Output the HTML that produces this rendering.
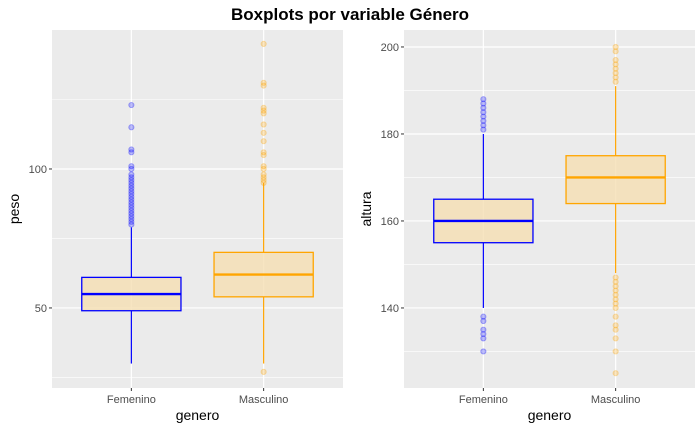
<!DOCTYPE html>
<html><head><meta charset="utf-8"><style>
body{margin:0;background:#fff;font-family:"Liberation Sans",sans-serif}
</style></head><body>
<svg id="c" width="700" height="432" xmlns="http://www.w3.org/2000/svg">
<text x="350" y="20" text-anchor="middle" font-size="17" font-weight="bold" fill="#000">Boxplots por variable Género</text>
</svg>
<script>
const categories = ["Femenino","Masculino"];
const pesoStats = [[30,49,55,61,79],[30,54,62,70,95]];
const pesoOutliers = [[123,115,107,106,101,100,98,97,96,95,94,93,92,91,90,89,88,87,86,85,84,83,82,81,80],[145,131,130,122,121,120,116,113,110,106,105,101,100,98,97,96,95,27]];
const pesoTicks = [50,100];
const alturaStats = [[140,155,160,165,180],[148,164,170,175,191]];
const alturaOutliers = [[188,187,186,185,184,183,182,181,138,137,135,134,133,130],[200,199,197,196,195,194,193,192,147,146,145,144,143,142,141,140,138,136,135,133,130,125]];
const alturaTicks = [140,160,180,200];
const colors = ["#0000ff","#ffa500"];
const NS="http://www.w3.org/2000/svg";
const svg=document.getElementById('c');
function mk(tag,attrs,parent){const e=document.createElementNS(NS,tag);for(const k in attrs)e.setAttribute(k,attrs[k]);(parent||svg).appendChild(e);return e;}
function panel(x0,x1,y0,y1,dmin,dmax,stats,outl,ticks,ylabel,name){
  const g=mk('g',{});
  
  
  const y=v=>y1-(v-dmin)/(dmax-dmin)*(y1-y0);
  const n=categories.length, span=n-1+1.2;
  const unit=(x1-x0)/span;
  const x=i=>x0+unit*(0.6+i);
  const bg=mk('rect',{x:x0,y:y0,width:x1-x0,height:y1-y0,fill:'#ebebeb'},g);
  
  
  for(let i=0;i<ticks.length-1;i++){const m=(ticks[i]+ticks[i+1])/2;mk('line',{x1:x0,x2:x1,y1:y(m),y2:y(m),stroke:'#fff','stroke-width':0.6},g);}
  const step=ticks[1]-ticks[0];
  [ticks[0]-step/2,ticks[ticks.length-1]+step/2].forEach(m=>{if(y(m)>y0&&y(m)<y1)mk('line',{x1:x0,x2:x1,y1:y(m),y2:y(m),stroke:'#fff','stroke-width':0.6},g);});
  ticks.forEach(t=>{
    mk('line',{x1:x0,x2:x1,y1:y(t),y2:y(t),stroke:'#fff','stroke-width':1.2},g);
    mk('line',{x1:x0-3,x2:x0,y1:y(t),y2:y(t),stroke:'#333'},g);
    const tl=mk('text',{x:x0-5,y:y(t)+4,'text-anchor':'end','font-size':11,fill:'#4d4d4d'},g);tl.textContent=t;
    
    
  });
  categories.forEach((c,i)=>{
    const cx=x(i);
    mk('line',{x1:cx,x2:cx,y1:y0,y2:y1,stroke:'#fff','stroke-width':1.2},g);
    mk('line',{x1:cx,x2:cx,y1:y1,y2:y1+3,stroke:'#333'},g);
    const tl=mk('text',{x:cx,y:y1+15,'text-anchor':'middle','font-size':11,fill:'#4d4d4d'},g);tl.textContent=c;
    
    
    const s=stats[i],col=colors[i],hw=unit*0.375;
    mk('line',{x1:cx,x2:cx,y1:y(s[0]),y2:y(s[1]),stroke:col,'stroke-width':1.2},g);
    mk('line',{x1:cx,x2:cx,y1:y(s[3]),y2:y(s[4]),stroke:col,'stroke-width':1.2},g);
    const b=mk('rect',{x:cx-hw,y:y(s[3]),width:2*hw,height:y(s[1])-y(s[3]),fill:'rgba(245,222,179,0.8)',stroke:col,'stroke-width':1.3},g);
    
    
    mk('line',{x1:cx-hw,x2:cx+hw,y1:y(s[2]),y2:y(s[2]),stroke:col,'stroke-width':2.4},g);
    outl[i].forEach(v=>{const p=mk('circle',{cx:cx,cy:y(v),r:2.6,fill:col,'fill-opacity':0.25,stroke:col,'stroke-opacity':0.3},g);
      
      });
  });
  const xl=mk('text',{x:(x0+x1)/2,y:y1+32,'text-anchor':'middle','font-size':14,fill:'#000'},g);xl.textContent='genero';
  
  
  const yl=mk('text',{x:0,y:0,'text-anchor':'middle','font-size':14,fill:'#000',transform:`translate(${x0-33},${(y0+y1)/2}) rotate(-90)`},g);yl.textContent=ylabel;
  
  
}
panel(52,343,30,388,21.2,150,pesoStats,pesoOutliers,pesoTicks,'peso','peso');
panel(404,695,30,388,121.6,203.9,alturaStats,alturaOutliers,alturaTicks,'altura','altura');
</script>
</body></html>
